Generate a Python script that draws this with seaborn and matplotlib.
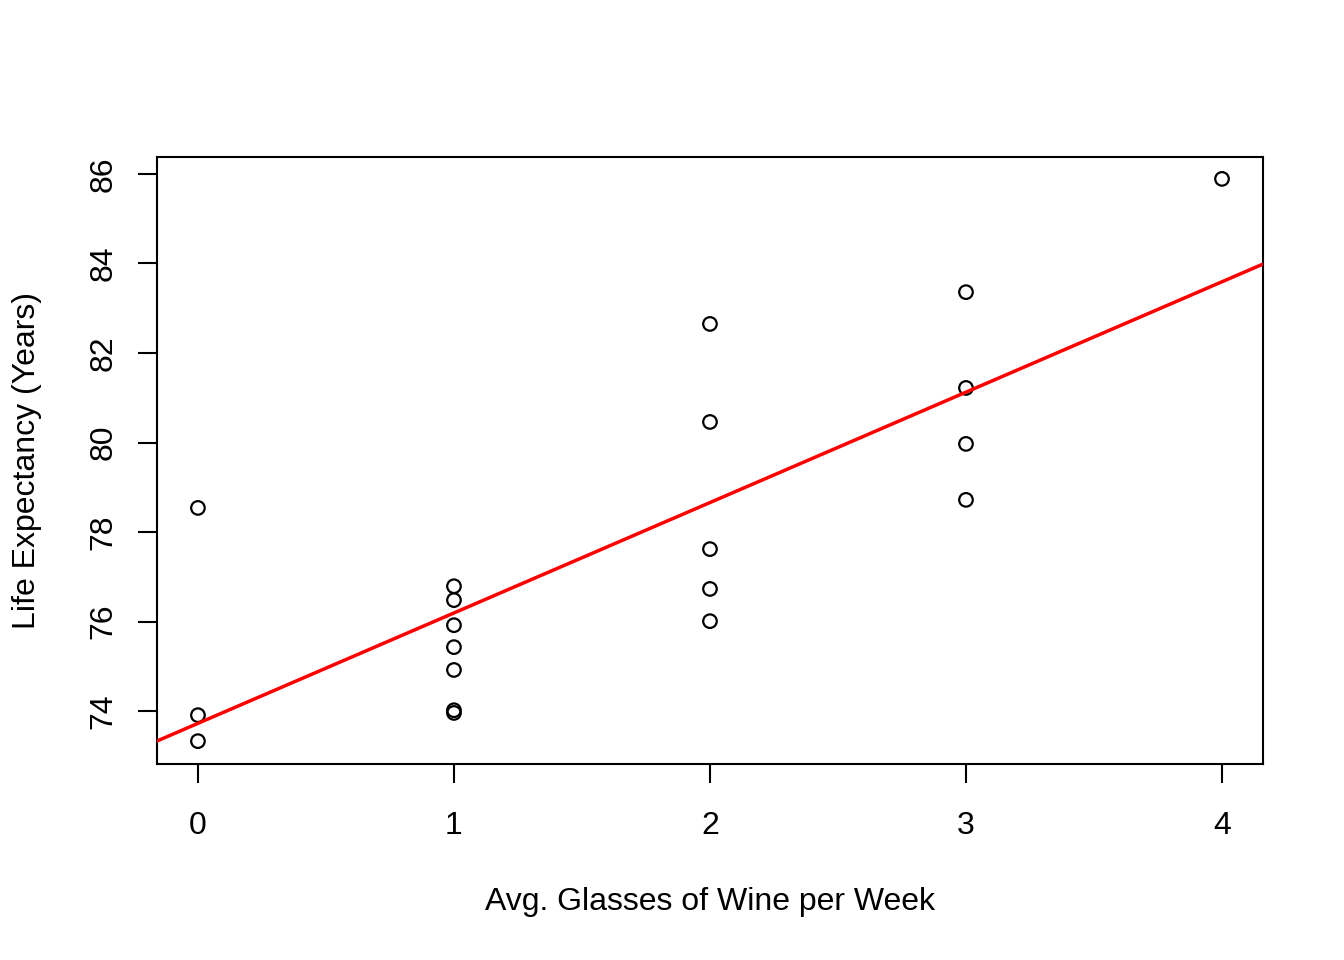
import matplotlib
matplotlib.use("Agg")
import matplotlib.pyplot as plt
import seaborn as sns
import numpy as np
import pandas as pd

wine = [0, 0, 0,
        1, 1, 1, 1, 1, 1, 1,
        2, 2, 2, 2, 2,
        3, 3, 3, 3,
        4]
life = [78.54, 73.91, 73.33,
        76.79, 76.48, 75.92, 75.43, 74.92, 74.02, 73.96,
        82.65, 80.46, 77.62, 76.73, 76.01,
        83.36, 81.22, 79.97, 78.72,
        85.89]
x_ticks = [0, 1, 2, 3, 4]
y_ticks = [74, 76, 78, 80, 82, 84, 86]

df = pd.DataFrame({"wine": wine, "life": life})

sns.set_theme(style="white")
plt.rcParams["font.family"] = ["Liberation Sans", "DejaVu Sans"]
plt.rcParams["text.color"] = "black"
plt.rcParams["axes.labelcolor"] = "black"
plt.rcParams["xtick.color"] = "black"
plt.rcParams["ytick.color"] = "black"

fig = plt.figure(figsize=(13.44, 9.6), dpi=100)
ax = fig.add_axes([0.1168, 0.2042, 0.9397 - 0.1168, 0.8365 - 0.2042])
ax.set_xlim(-0.16, 4.16)
ax.set_ylim(72.82, 86.38)

sns.scatterplot(data=df, x="wine", y="life", ax=ax, marker="o", s=95,
                facecolor="none", edgecolor="black", linewidth=1.6, zorder=3)
sns.regplot(data=df, x="wine", y="life", ax=ax, scatter=False, ci=None,
            truncate=False, color="red", line_kws={"linewidth": 2.5, "zorder": 4})
ax.set_xlim(-0.16, 4.16)
ax.set_ylim(72.82, 86.38)

ax.set_xticks(x_ticks)
ax.set_yticks(y_ticks)
ax.set_xticklabels([str(v) for v in x_ticks], fontsize=23, color="black")
ax.set_yticklabels([str(v) for v in y_ticks], fontsize=23, rotation=90,
                   va="center", color="black")
ax.tick_params(axis="both", direction="out", length=14, width=1.5, color="black",
               bottom=True, left=True)
ax.tick_params(axis="x", pad=20)
ax.tick_params(axis="y", pad=13.5)
for sp in ax.spines.values():
    sp.set_color("black")
    sp.set_linewidth(1.5)

ax.set_xlabel("Avg. Glasses of Wine per Week", fontsize=23, labelpad=33, color="black")
ax.set_ylabel("Life Expectancy (Years)", fontsize=23, labelpad=34, color="black")

fig.savefig("out.png", dpi=100, facecolor="white")
